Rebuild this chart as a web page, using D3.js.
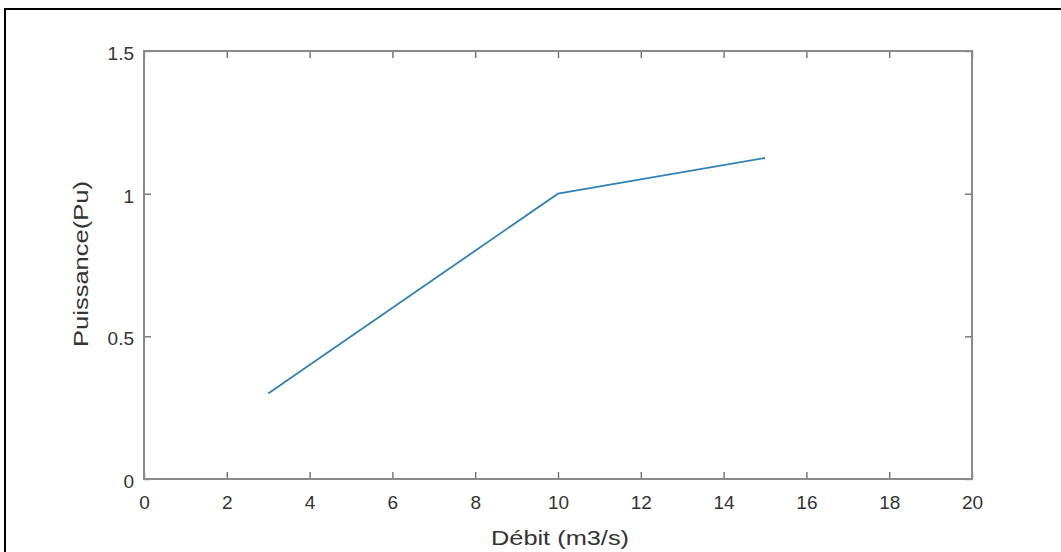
<!DOCTYPE html>
<html><head><meta charset="utf-8">
<script src="https://cdn.jsdelivr.net/npm/d3@7"></script>
<style>
html,body{margin:0;padding:0;background:#fff;}
svg{display:block;}
text{font-family:"Liberation Sans",Arial,sans-serif;fill:#333;}
</style></head>
<body>
<svg id="chart" width="1061" height="552"></svg>
<script>
const debit = [3, 10, 15];
const puissance = [0.3, 1.0, 1.125];
const xTicks = [0, 2, 4, 6, 8, 10, 12, 14, 16, 18, 20];
const yTicks = [0, 0.5, 1, 1.5];
const xLabel = "Débit (m3/s)";
const yLabel = "Puissance(Pu)";

(function () {
const svg = d3.select("#chart");
const mLeft = 144, mRight = 972, mTop = 51, mBottom = 479;
const x = d3.scaleLinear().domain([0, 20]).range([mLeft, mRight]);
const y = d3.scaleLinear().domain([0, 1.5]).range([mBottom, mTop]);

svg.append("path").attr("d", "M5,552 V9 H1061").attr("fill", "none")
  .attr("stroke", "#000").attr("stroke-width", 2);

const tickLen = 7;
const axColor = "#8a8a8a";
const gx = svg.append("g").attr("transform", `translate(0,${mBottom})`)
  .call(d3.axisBottom(x).tickValues(xTicks).tickSize(-tickLen).tickPadding(17).tickFormat(d3.format("d")));
const gxt = svg.append("g").attr("transform", `translate(0,${mTop})`)
  .call(d3.axisTop(x).tickValues(xTicks).tickSize(-tickLen).tickFormat(""));
const gy = svg.append("g").attr("transform", `translate(${mLeft},0)`)
  .call(d3.axisLeft(y).tickValues(yTicks).tickSize(-tickLen).tickPadding(10).tickFormat(d => String(d)));
const gyr = svg.append("g").attr("transform", `translate(${mRight},0)`)
  .call(d3.axisRight(y).tickValues(yTicks).tickSize(-tickLen).tickFormat(""));

[gx, gxt, gy, gyr].forEach(g => {
  g.select(".domain").remove();
  g.selectAll(".tick line").attr("stroke", "#666").attr("stroke-width", 1.3);
  g.selectAll("text").attr("font-size", 19).attr("fill", "#3a3a3a")
    .attr("font-family", '"Liberation Sans",Arial,sans-serif');
});
gx.selectAll("text").attr("dy", "0.71em");
gy.selectAll("text").attr("dy", "0.45em");

svg.append("rect").attr("x", mLeft).attr("y", mTop).attr("width", mRight - mLeft).attr("height", mBottom - mTop)
  .attr("fill", "none").attr("stroke", axColor).attr("stroke-width", 2);

const pts = debit.map((d, i) => [d, puissance[i]]);
svg.append("path").datum(pts)
  .attr("d", d3.line().x(d => x(d[0])).y(d => y(d[1])))
  .attr("fill", "none").attr("stroke", "#3481b6").attr("stroke-width", 1.8);

svg.append("text").attr("x", 560).attr("y", 545).attr("text-anchor", "middle")
  .attr("font-size", 21).attr("textLength", 138).attr("lengthAdjust", "spacingAndGlyphs")
  .attr("fill", "#3a3a3a").text(xLabel);
svg.append("text").attr("transform", "translate(88,264) rotate(-90)").attr("text-anchor", "middle")
  .attr("font-size", 21).attr("textLength", 166).attr("lengthAdjust", "spacingAndGlyphs")
  .attr("fill", "#3a3a3a").text(yLabel);
})();
</script>
</body></html>
